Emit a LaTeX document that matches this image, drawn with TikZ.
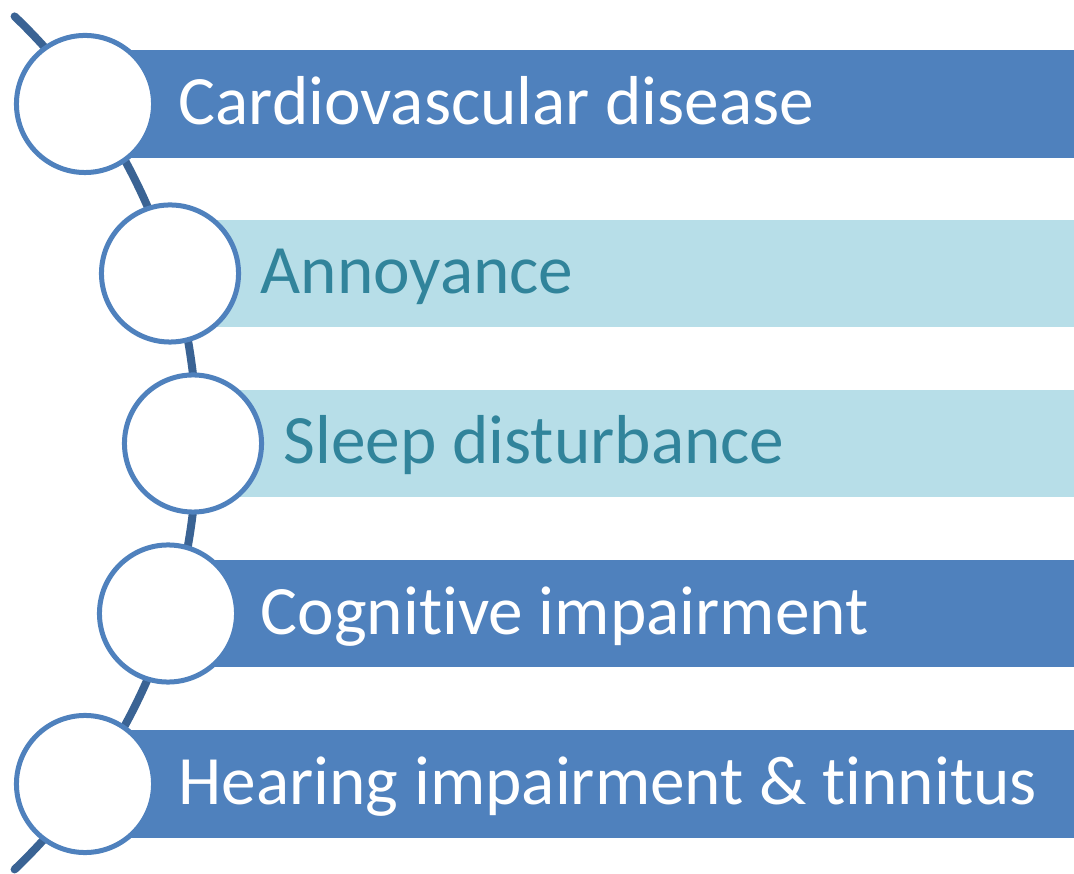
\documentclass[tikz,border=0pt]{standalone}
\usepackage{fontspec}
\setmainfont{Carlito}[Ligatures=NoCommon]
\definecolor{mainblue}{RGB}{79, 129, 189}
\definecolor{lightblue}{RGB}{183, 222, 232}
\definecolor{tealtext}{RGB}{49, 132, 155}
\definecolor{spineblue}{RGB}{58, 99, 148}
\usetikzlibrary{positioning}

\begin{document}
\begin{tikzpicture}[x=0.01cm, y=-0.01cm,
    bar/.style={rectangle, fill=mainblue, anchor=west, minimum height=1.07cm, inner sep=0pt},
    lightbar/.style={bar, fill=lightblue},
    ring/.style={circle, draw=mainblue, fill=white, line width=0.05cm, minimum size=1.37cm, inner sep=0pt},
    label/.style={anchor=base west, inner sep=0pt, text=white, font=\fontsize{19.7}{24}\selectfont},
    lightlabel/.style={label, text=tealtext}]
\useasboundingbox (0,0) rectangle (1074,874);
% curved spine behind the rings
\coordinate (spinetop) at (14.6,16.4);
\draw[spineblue, line width=0.08cm, line cap=round] (spinetop) arc[start angle=-46.3, end angle=46.3, radius=590];
% bars
\node[bar, minimum width=9.89cm] (cardbar) at (85,104) {};
\node[lightbar, minimum width=9.04cm] (annbar) at (170,273.5) {};
\node[lightbar, minimum width=8.81cm] (sleepbar) at (193,443.5) {};
\node[bar, minimum width=9.06cm] (cogbar) at (168,613.5) {};
\node[bar, minimum width=9.89cm] (hearbar) at (85,784) {};
% rings
\node[ring] (cardring) at (85,104) {};
\node[ring] (annring) at (170,273.5) {};
\node[ring] (sleepring) at (193,443.5) {};
\node[ring] (cogring) at (168,613.5) {};
\node[ring] (hearring) at (85,784) {};
% texts
\node[label] (card) at (178,124.5) {Cardiovascular disease};
\node[lightlabel] (ann) at (260,294) {Annoyance};
\node[lightlabel] (sleep) at (283,464) {Sleep disturbance};
\node[label] (cog) at (260,634) {Cognitive impairment};
\node[label] (hear) at (178,804.5) {Hearing impairment \& tinnitus};
\end{tikzpicture}
\end{document}
